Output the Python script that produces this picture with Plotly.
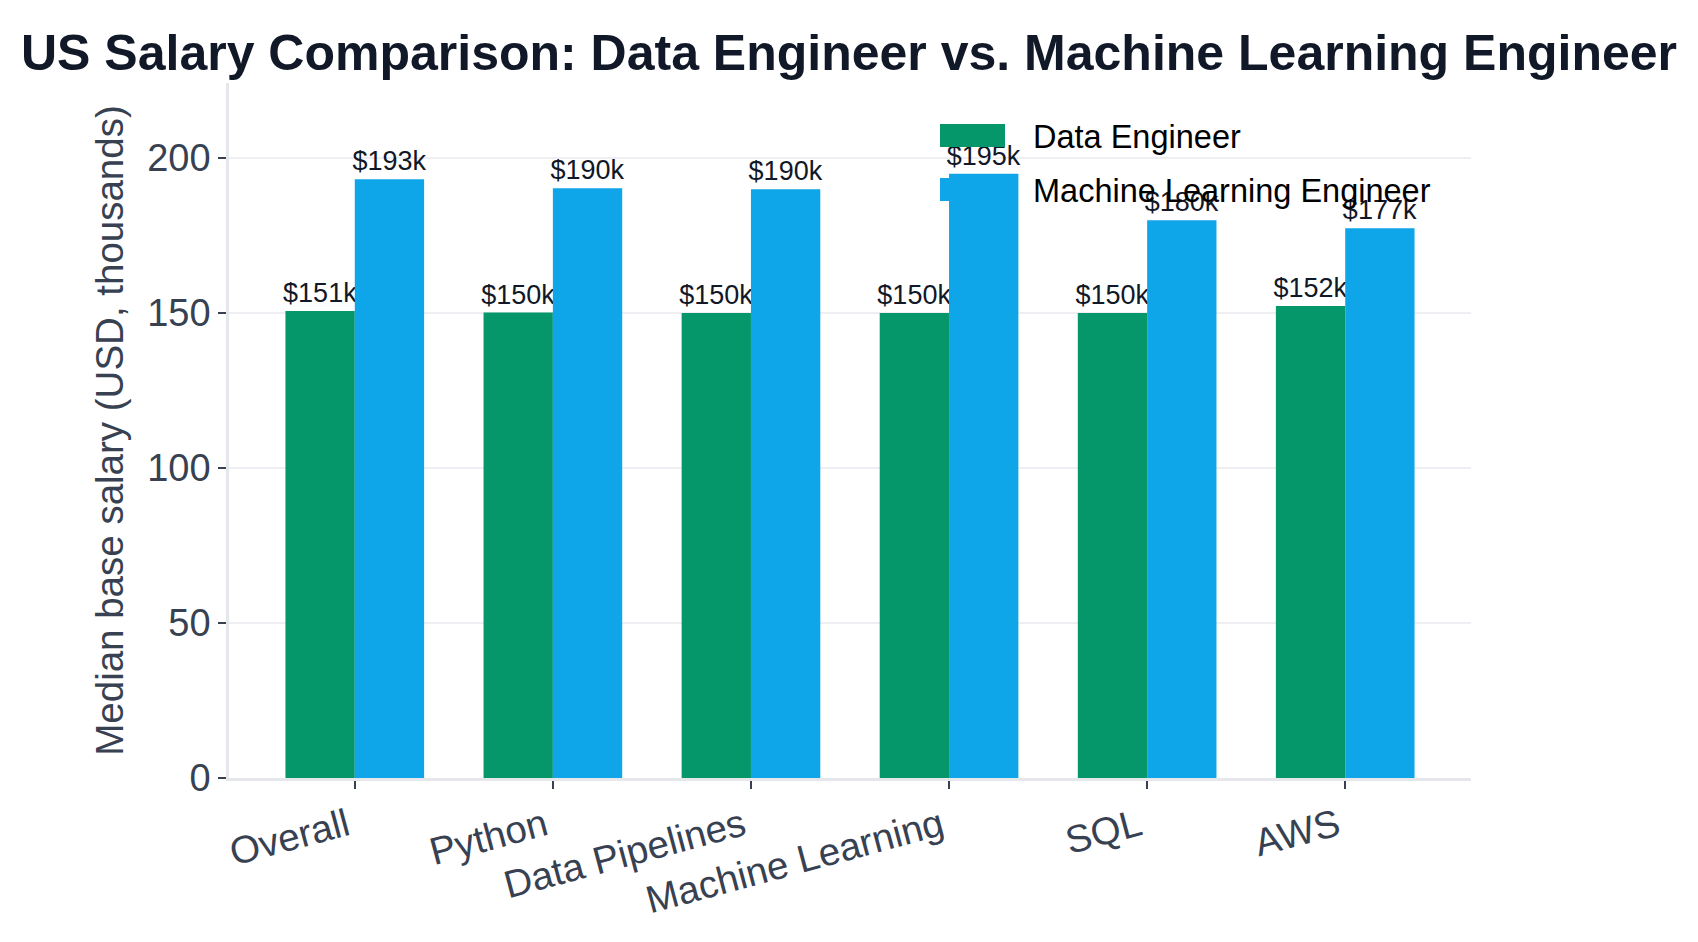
import plotly.graph_objects as go

categories = ["Overall", "Python", "Data Pipelines", "Machine Learning", "SQL", "AWS"]
data_engineer = [150.7, 150.2, 150.0, 150.0, 150.0, 152.3]
ml_engineer = [193.2, 190.3, 190.0, 195.0, 180.0, 177.4]
series_names = ["Data Engineer", "Machine Learning Engineer"]
y_ticks = [0, 50, 100, 150, 200]

colors = ["#059669", "#0ea5e9"]
FONT = "Liberation Sans, Arial, Helvetica, sans-serif"

# plot-area geometry in pixels (for placing the legend)
W, H = 1698, 942
L, R, T, B = 229, 227, 83, 164
PW, PH = W - L - R, H - T - B


def px_x(x):
    return (x - L) / PW


def px_y(y):
    return (H - B - y) / PH


fig = go.Figure()
for i, (name, vals) in enumerate(zip(series_names, [data_engineer, ml_engineer])):
    fig.add_trace(go.Bar(
        x=categories, y=vals, name=name,
        marker=dict(color=colors[i], line=dict(width=0)),
        text=[f"${v:.0f}k" for v in vals],
        textposition="outside",
        constraintext="none",
        cliponaxis=False,
        textfont=dict(size=27, color="#111827", family=FONT),
        showlegend=False,
    ))

# legend (large swatches as in the reference)
legend_y = [135.5, 189.5]
for i, name in enumerate(series_names):
    yc = legend_y[i]
    fig.add_shape(type="rect", xref="paper", yref="paper",
                  x0=px_x(940), x1=px_x(1005),
                  y0=px_y(yc + 11.5), y1=px_y(yc - 11.5),
                  fillcolor=colors[i], line=dict(width=0), layer="above")
    fig.add_annotation(xref="paper", yref="paper",
                       x=px_x(1031), y=px_y(yc + 1),
                       xanchor="left", yanchor="middle",
                       text=name, showarrow=False,
                       font=dict(size=32.5, color="#000000", family=FONT))

ymax = max(ml_engineer) * 1.15
fig.update_layout(
    width=W, height=H,
    barmode="group", bargap=0.3, bargroupgap=0,
    plot_bgcolor="white", paper_bgcolor="white",
    margin=dict(l=L, r=R, t=T, b=B),
    font=dict(family=FONT, color="#374151"),
    showlegend=False,
    title=dict(
        text="US Salary Comparison: Data Engineer vs. Machine Learning Engineer",
        font=dict(size=50, color="#111827", family=FONT, weight="bold"),
        x=0.5, xanchor="center", xref="container",
        y=1 - 52 / H, yanchor="middle", yref="container",
    ),
    xaxis=dict(
        range=[-0.635, 5.635],
        showgrid=False,
        showline=True, linecolor="#e5e7eb", linewidth=2.5,
        ticks="outside", ticklen=8, tickwidth=2, tickcolor="#374151",
        tickangle=-15,
        ticklabelshift=-8,
        tickfont=dict(size=38.5, color="#374151", family=FONT),
    ),
    yaxis=dict(
        range=[0, ymax],
        tickvals=y_ticks,
        showgrid=True, gridcolor="#eeeef3", gridwidth=2,
        zeroline=False,
        showline=True, linecolor="#e5e7eb", linewidth=2.5,
        ticks="outside", ticklen=8, tickwidth=2, tickcolor="#374151",
        tickfont=dict(size=38, color="#374151", family=FONT),
        title=dict(text="Median base salary (USD, thousands)",
                   font=dict(size=38.5, color="#374151", family=FONT),
                   standoff=12),
    ),
)

fig.write_html("out.html")
